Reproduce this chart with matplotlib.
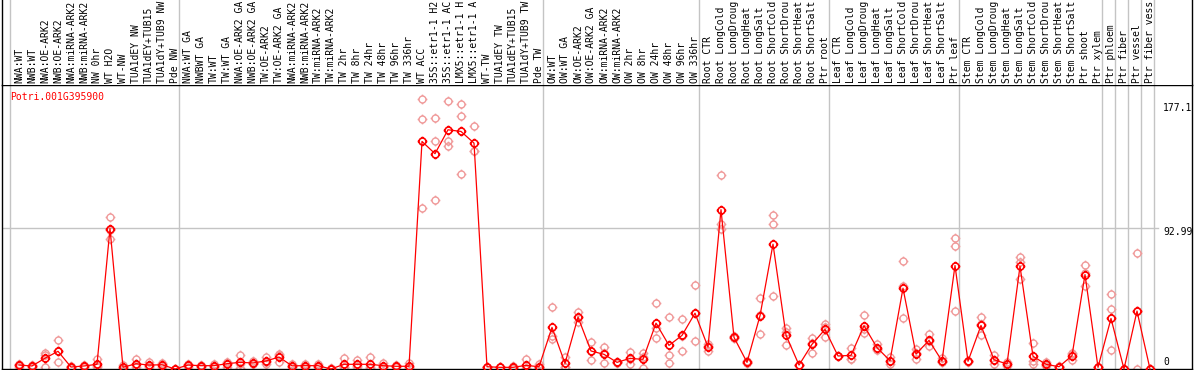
import matplotlib
matplotlib.use('Agg')
import matplotlib.pyplot as plt
import numpy as np
from matplotlib.path import Path

gene = 'Potri.001G395900'

# sample names, cut to 14 characters as on the chart
labels = [
    'NWA:WT', 'NWB:WT', 'NWA:OE-ARK2', 'NWB:OE-ARK2', 'NWA:miRNA-ARK2', 'NWB:miRNA-ARK2',
    'NW 0hr', 'WT H2O', 'WT-NW', 'TUA1dEY NW', 'TUA1dEY+TUB15', 'TUA1dY+TUB9 NW', 'Pde NW',
    'NWA:WT GA', 'NWBWT GA', 'TW:WT', 'TW:WT GA', 'NWA:OE-ARK2 GA', 'NWB:OE-ARK2 GA',
    'TW:OE-ARK2', 'TW:OE-ARK2 GA', 'NWA:miRNA-ARK2', 'NWB:miRNA-ARK2', 'TW:miRNA-ARK2',
    'TW:miRNA-ARK2', 'TW 2hr', 'TW 8hr', 'TW 24hr', 'TW 48hr', 'TW 96hr', 'TW 336hr',
    'WT ACC', '35S::etr1-1 H2', '35S::etr1-1 AC', 'LMX5::etr1-1 H', 'LMX5::etr1-1 A',
    'WT-TW', 'TUA1dEY TW', 'TUA1dEY+TUB15', 'TUA1dY+TUB9 TW', 'Pde TW',
    'OW:WT', 'OW:WT GA', 'OW:OE-ARK2', 'OW:OE-ARK2 GA', 'OW:miRNA-ARK2', 'OW:miRNA-ARK2',
    'OW 2hr', 'OW 8hr', 'OW 24hr', 'OW 48hr', 'OW 96hr', 'OW 336hr',
    'Root CTR', 'Root LongCold', 'Root LongDroug', 'Root LongHeat', 'Root LongSalt',
    'Root ShortCold', 'Root ShortDrou', 'Root ShortHeat', 'Root ShortSalt', 'Ptr root',
    'Leaf CTR', 'Leaf LongCold', 'Leaf LongDroug', 'Leaf LongHeat', 'Leaf LongSalt',
    'Leaf ShortCold', 'Leaf ShortDrou', 'Leaf ShortHeat', 'Leaf ShortSalt', 'Ptr leaf',
    'Stem CTR', 'Stem LongCold', 'Stem LongDroug', 'Stem LongHeat', 'Stem LongSalt',
    'Stem ShortCold', 'Stem ShortDrou', 'Stem ShortHeat', 'Stem ShortSalt',
    'Ptr shoot', 'Ptr xylem', 'Ptr phloem', 'Ptr fiber', 'Ptr vessel', 'Ptr fiber vess',
]

means = [
    2.6, 2.0, 7.1, 11.7, 1.3, 2.0, 3.1, 92.8, 1.1, 3.5, 2.6, 2.8, 0.0,
    2.6, 2.2, 2.2, 3.5, 4.4, 4.0, 5.3, 7.9, 2.1, 2.2, 2.2, 0.0, 3.1, 3.1, 3.1, 2.2, 1.8, 1.8,
    150.4, 142.3, 158.1, 157.0, 149.3, 1.5, 1.1, 1.1, 2.4, 1.5,
    27.5, 3.7, 34.3, 11.9, 9.7, 4.4, 7.0, 6.4, 30.3, 15.6, 22.2, 36.9,
    14.5, 105.3, 20.9, 4.4, 35.2, 82.5, 22.4, 2.6, 16.3, 26.2,
    8.6, 9.0, 28.6, 14.1, 5.5, 53.4, 9.9, 18.9, 5.3, 68.4,
    5.1, 28.8, 6.1, 3.3, 67.9, 8.4, 3.1, 1.5, 8.8, 62.4, 1.1,
    33.4, 0.0, 38.3, 0.0,
]

rep_a = [
    3.5, 2.5, 10.4, 18.9, 1.3, 2.0, 6.6, 100.7, 2.5, 6.6, 4.4, 4.0, 0.0,
    3.5, 2.8, 3.5, 4.8, 9.2, 5.0, 8.1, 9.9, 3.0, 3.0, 3.5, 0.5, 7.0, 5.9, 7.7, 4.0, 2.5, 3.7,
    178.6, 166.2, 176.8, 175.3, 160.3, 1.5, 1.1, 2.0, 6.4, 3.0,
    41.1, 8.0, 37.6, 17.8, 14.7, 4.4, 11.4, 10.8, 43.3, 34.1, 32.8, 55.4,
    16.5, 128.0, 21.5, 5.5, 46.6, 101.6, 26.8, 2.6, 20.6, 29.7,
    8.4, 13.6, 35.6, 16.5, 3.3, 71.7, 13.0, 23.3, 7.0, 86.9,
    5.5, 34.1, 9.2, 4.6, 73.7, 16.9, 4.6, 2.0, 9.9, 69.0, 1.1,
    49.3, 0.0, 76.5, 0.0,
]

rep_b = [
    1.5, 1.5, 1.5, 4.4, 0.8, 1.5, 1.0, 85.6, 0.5, 1.0, 1.5, 1.5, 0.0,
    1.5, 1.5, 1.0, 1.5, 0.5, 3.0, 3.5, 4.8, 1.5, 1.5, 1.0, 0.0, 1.0, 1.5, 1.0, 1.0, 1.0, 0.5,
    165.4, 150.4, 151.0, 166.9, 143.8, 1.5, 1.1, 0.5, 0.3, 0.5,
    19.6, 1.5, 31.1, 5.9, 3.7, 4.0, 3.3, 0.5, 20.2, 9.0, 11.9, 18.5,
    12.0, 95.6, 20.5, 3.8, 23.1, 96.0, 15.8, 2.6, 10.8, 20.9,
    8.8, 6.6, 23.5, 13.0, 5.5, 33.6, 6.4, 15.2, 4.5, 81.1,
    4.8, 22.6, 3.3, 2.0, 59.6, 3.3, 2.0, 1.0, 6.1, 54.9, 1.1,
    39.4, 0.0, 0.0, 0.0,
]

rep_c = [
    2.5, 2.0, 9.5, 11.7, 1.8, 2.5, 1.8, 92.0, 0.3, 3.0, 2.0, 3.0, 0.0,
    2.8, 2.2, 2.0, 4.0, 3.5, 4.0, 4.3, 9.0, 1.8, 2.1, 2.1, 0.0, 1.3, 2.0, 0.6, 1.6, 1.9, 1.2,
    106.6, 111.5, 147.1, 129.1, 143.8, 1.5, 1.1, 0.8, 0.5, 1.0,
    21.8, 1.6, 34.2, 12.0, 10.7, 4.8, 6.3, 7.9, 27.4, 3.7, 21.9, 36.8,
    15.0, 92.3, 20.7, 3.9, 35.9, 48.4, 24.6, 2.6, 17.5, 28.0,
    8.6, 6.8, 26.7, 12.8, 7.7, 54.9, 10.3, 18.2, 4.4, 38.3,
    5.0, 29.7, 5.8, 3.3, 70.4, 5.0, 2.7, 1.5, 10.4, 63.3, 1.1,
    12.5, 0.0, 38.4, 0.0,
]

# first column of each block (last entry closes the table)
group_starts = [0, 13, 41, 53, 63, 73, 84, 85, 86, 87, 88]
scale_marks = [177.1, 92.99, 0]

plt.rcParams['font.family'] = 'DejaVu Sans Mono'
plt.rcParams['font.size'] = 7

W, H = 1194, 370
fig = plt.figure(figsize=(W / 100, H / 100), dpi=100)
left_px, right_px, top_px, base_px = 2, 1192, 85, 369
ax = fig.add_axes([left_px / W, (H - base_px) / H, (right_px - left_px) / W, (base_px - top_px) / H])
hd = fig.add_axes([left_px / W, (H - top_px) / H, (right_px - left_px) / W, top_px / H])

n = len(labels)
x = np.arange(n)
px_per_unit = 140.7 / 92.99
for a in (ax, hd):
    a.set_xlim((left_px - 19) / 13, (right_px - 19) / 13)
    a.tick_params(left=False, bottom=False, labelleft=False, labelbottom=False)
    for s in a.spines.values():
        s.set_color('black')
        s.set_linewidth(1)
    for g in group_starts:
        a.axvline(g - 9 / 13, color='#c4c4c4', lw=1, zorder=0)
ax.set_ylim(0, (base_px - top_px) / px_per_unit)
hd.set_ylim(0, 1)
hd.spines['top'].set_visible(False)
hd.spines['bottom'].set_visible(False)

ax.axhline(92.99, xmax=(1158 - left_px) / (right_px - left_px), color='#c4c4c4', lw=1, zorder=0)

# circle with four little ticks
circ = Path.unit_circle()
tk = Path([(0, 1), (0, 1.4), (0, -1), (0, -1.4), (1, 0), (1.4, 0), (-1, 0), (-1.4, 0)],
          [Path.MOVETO, Path.LINETO] * 4)
mk = Path.make_compound_path(circ, tk)

for reps in (rep_a, rep_b, rep_c):
    ax.plot(x, reps, ls='none', marker=mk, ms=7, mfc='none', mec='#f09a9a', mew=1.0,
            clip_on=False, zorder=2)
ax.plot(x, means, color='red', lw=0.9, marker=mk, ms=7, mfc='none', mec='red', mew=1.2,
        clip_on=False, zorder=3)

for i, lab in enumerate(labels):
    hd.text(i, 2.3 / top_px, lab, rotation=90, ha='center', va='bottom', color='black')

offs = [-6.5, -3.7, 7]
for v, o in zip(scale_marks, offs):
    ax.annotate(f'{v:g}', xy=(n, v), xytext=(0, o), textcoords='offset pixels',
                ha='left', va='center', annotation_clip=False)

fig.text(10 / W, 1 - 97 / H, gene, color='red', ha='left', va='center')

fig.savefig('out.png', dpi=100)
